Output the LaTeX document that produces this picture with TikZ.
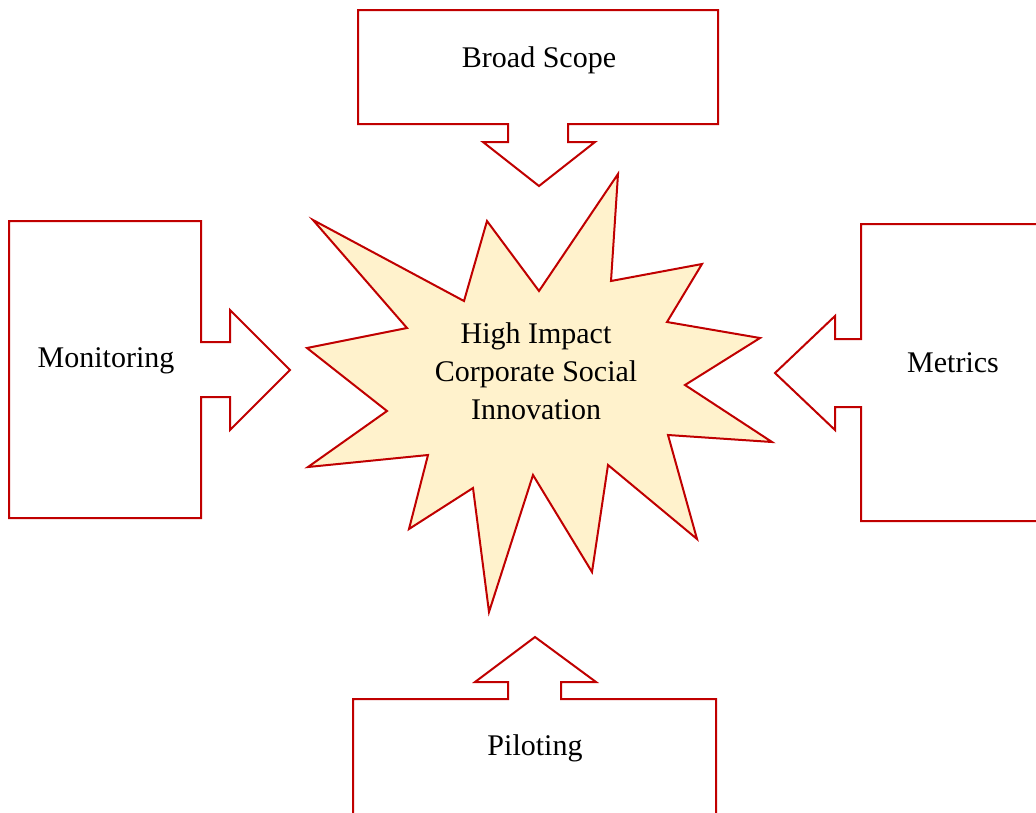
\documentclass[tikz,border=0pt]{standalone}
\usepackage{fontspec}
\setmainfont{Liberation Serif}
\definecolor{edge}{HTML}{C00000}
\definecolor{burst}{HTML}{FFF2CC}
\tikzset{
  callout/.style={draw=edge, line width=2pt, fill=white, line join=miter},
  starburst/.style={draw=edge, line width=2pt, fill=burst, line join=miter},
  label/.style={font=\fontsize{30}{38}\selectfont, align=center, inner sep=0pt},
}
\begin{document}
\begin{tikzpicture}[x=1pt, y=-1pt]
  \clip (0,0) rectangle (1036,812);
  \fill[white] (0,0) rectangle (1036,812);

  % top callout, arrow pointing down
  \draw[callout] (358,10) -- (718,10) -- (718,124) -- (568,124) -- (568,142)
    -- (595,142) -- (539,186) -- (483,142) -- (508,142) -- (508,124)
    -- (358,124) -- cycle;
  \node[label] (scope) at (539,60) {Broad Scope};

  % left callout, arrow pointing right
  \draw[callout] (9,221) -- (201,221) -- (201,342) -- (230,342) -- (230,310)
    -- (290,370) -- (230,430) -- (230,397) -- (201,397) -- (201,518)
    -- (9,518) -- cycle;
  \node[label] (monitor) at (106,361) {Monitoring};

  % right callout, arrow pointing left
  \draw[callout] (1050,224) -- (861,224) -- (861,339) -- (835,339) -- (835,316)
    -- (775,373) -- (835,430) -- (835,407) -- (861,407) -- (861,521)
    -- (1050,521);
  \node[label] (metrics) at (953,363) {Metrics};

  % bottom callout, arrow pointing up
  \draw[callout] (353,830) -- (353,699) -- (508,699) -- (508,682) -- (475,682)
    -- (535,637) -- (596,682) -- (561,682) -- (561,699) -- (716,699)
    -- (716,830);
  \node[label] (pilot) at (535,748) {Piloting};

  % central explosion shape
  \draw[starburst] (313,220) -- (464,301) -- (487,221) -- (539,291)
    -- (618,174) -- (611,281) -- (702,264) -- (667,322) -- (760,338)
    -- (685,385) -- (772,442) -- (668,435) -- (697,539) -- (608,465)
    -- (592,572) -- (533,475) -- (489,612) -- (473,488) -- (409,529)
    -- (428,455) -- (308,467) -- (387,411) -- (307,348) -- (407,328)
    -- cycle;
  \node[label] (core) at (536,371) {High Impact\\Corporate Social\\Innovation};
\end{tikzpicture}
\end{document}
